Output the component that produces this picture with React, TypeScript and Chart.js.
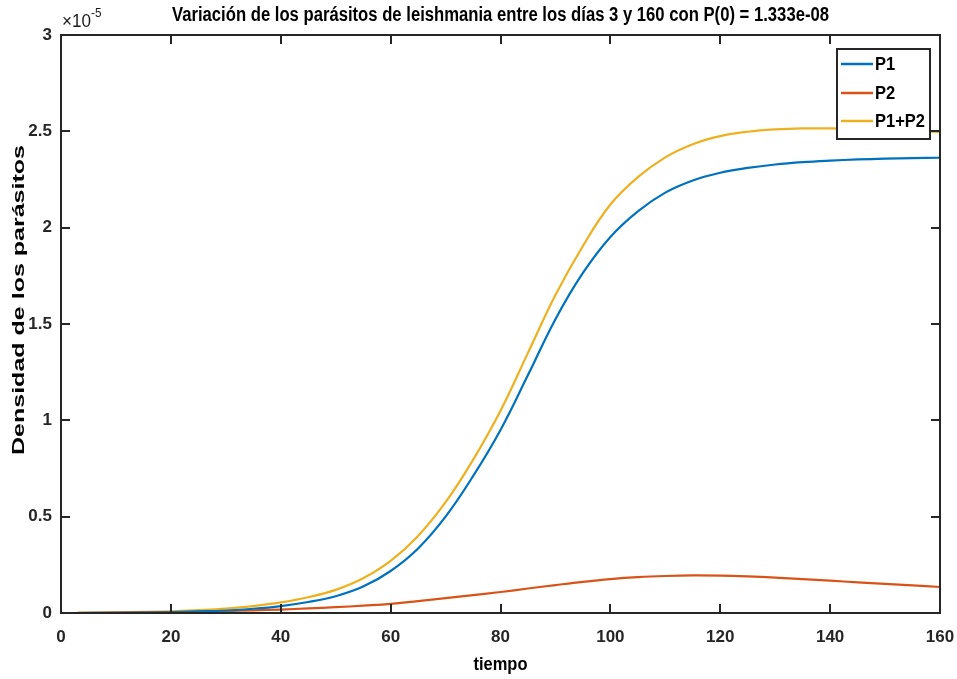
import React, { useEffect, useRef } from "react";
import { Chart, registerables } from "chart.js";

Chart.register(...registerables);

// Values in units of 1e-5 (axis shows ×10^-5)
const TIEMPO = [3, 10, 20, 25, 30, 35, 40, 45, 50, 55, 60, 65, 70, 75, 80, 85, 90, 95, 100, 105, 110, 115, 120, 125, 130, 135, 140, 145, 150, 155, 160];
const P1 = [0.0, 0.001, 0.004, 0.008, 0.013, 0.022, 0.036, 0.057, 0.087, 0.137, 0.218, 0.335, 0.5, 0.71, 0.95, 1.235, 1.525, 1.765, 1.952, 2.085, 2.182, 2.245, 2.285, 2.31, 2.328, 2.34, 2.348, 2.354, 2.358, 2.361, 2.363];
const P2 = [0.001, 0.002, 0.005, 0.007, 0.01, 0.014, 0.018, 0.024, 0.03, 0.038, 0.047, 0.062, 0.077, 0.093, 0.109, 0.127, 0.145, 0.162, 0.176, 0.186, 0.192, 0.195, 0.194, 0.19, 0.184, 0.176, 0.168, 0.159, 0.151, 0.143, 0.135];
const P1P2 = [0.001, 0.003, 0.009, 0.015, 0.023, 0.036, 0.055, 0.082, 0.12, 0.18, 0.27, 0.4, 0.575, 0.795, 1.05, 1.35, 1.65, 1.905, 2.12, 2.262, 2.365, 2.433, 2.475, 2.498, 2.51, 2.515, 2.515, 2.512, 2.507, 2.502, 2.497];

const SERIES_NAMES = ["P1", "P2", "P1+P2"];
const SERIES_COLORS = ["#0072BD", "#D95319", "#EDB120"];
const TITLE = "Variación de los parásitos de leishmania entre los días 3 y 160 con P(0) = 1.333e-08";
const X_LABEL = "tiempo";
const Y_LABEL = "Densidad de los parásitos";
const X_TICKS = [0, 20, 40, 60, 80, 100, 120, 140, 160];
const Y_TICKS = [0, 0.5, 1, 1.5, 2, 2.5, 3];

const FONT = '"Liberation Sans", Arial, sans-serif';
const AXIS = "#262626";

function fitText(ctx: CanvasRenderingContext2D, text: string, cx: number, cy: number, w: number, font: string, rotate = false) {
  ctx.save();
  ctx.font = font;
  const m = ctx.measureText(text).width;
  ctx.translate(cx, cy);
  if (rotate) ctx.rotate(-Math.PI / 2);
  ctx.scale(w / m, 1);
  ctx.textAlign = "center";
  ctx.textBaseline = "middle";
  ctx.fillStyle = "#000";
  ctx.fillText(text, 0, 0);
  ctx.restore();
}

const decorPlugin = {
  id: "decor",
  afterDraw(chart: any) {
    const ctx: CanvasRenderingContext2D = chart.ctx;
    const { left, right, top, bottom } = chart.chartArea;
    const xs = chart.scales.x;
    const ys = chart.scales.y;
    ctx.save();
    // frame
    ctx.strokeStyle = AXIS;
    ctx.lineWidth = 2;
    ctx.strokeRect(left, top, right - left, bottom - top);
    // inward ticks
    const TL = 9;
    ctx.beginPath();
    X_TICKS.forEach((v) => {
      const px = Math.round(xs.getPixelForValue(v));
      ctx.moveTo(px, bottom);
      ctx.lineTo(px, bottom - TL);
      ctx.moveTo(px, top);
      ctx.lineTo(px, top + TL);
    });
    Y_TICKS.forEach((v) => {
      const py = Math.round(ys.getPixelForValue(v));
      ctx.moveTo(left, py);
      ctx.lineTo(left + TL, py);
      ctx.moveTo(right, py);
      ctx.lineTo(right - TL, py);
    });
    ctx.stroke();

    // exponent label
    ctx.save();
    ctx.fillStyle = "#1a1a1a";
    ctx.textBaseline = "alphabetic";
    ctx.textAlign = "left";
    ctx.translate(left + 1, 27);
    ctx.scale(0.9, 1);
    ctx.font = `19px ${FONT}`;
    ctx.fillText("×10", 0, 0);
    const w10 = ctx.measureText("×10").width;
    ctx.font = `13px ${FONT}`;
    ctx.fillText("-5", w10, -10);
    ctx.restore();

    // title and axis labels
    fitText(ctx, TITLE, (left + right) / 2, 15, 657, `bold 20px ${FONT}`);
    fitText(ctx, X_LABEL, (left + right) / 2, 665, 54, `bold 18px ${FONT}`);
    fitText(ctx, Y_LABEL, 19, 300, 310, `bold 17px ${FONT}`, true);

    // legend
    const bx = 837, by = 49, bw = 93, bh = 90;
    ctx.fillStyle = "#fff";
    ctx.fillRect(bx, by, bw, bh);
    ctx.strokeStyle = AXIS;
    ctx.lineWidth = 2;
    ctx.strokeRect(bx, by, bw, bh);
    const rows = [64, 93, 121];
    ctx.font = `bold 19px ${FONT}`;
    const sx = 50 / ctx.measureText("P1+P2").width;
    chart.data.datasets.forEach((ds: any, i: number) => {
      ctx.strokeStyle = ds.borderColor;
      ctx.lineWidth = 2.5;
      ctx.beginPath();
      ctx.moveTo(841, rows[i]);
      ctx.lineTo(873, rows[i]);
      ctx.stroke();
      ctx.save();
      ctx.translate(875, rows[i] + 1);
      ctx.scale(sx, 1);
      ctx.fillStyle = "#000";
      ctx.font = `bold 19px ${FONT}`;
      ctx.textAlign = "left";
      ctx.textBaseline = "middle";
      ctx.fillText(ds.label, 0, 0);
      ctx.restore();
    });
    ctx.restore();
  },
};

export default function App() {
  const ref = useRef<HTMLCanvasElement | null>(null);
  useEffect(() => {
    document.body.style.margin = "0";
    if (!ref.current) return;
    const series = [P1, P2, P1P2];
    const chart = new Chart(ref.current, {
      type: "line",
      data: {
        datasets: series.map((s, i) => ({
          label: SERIES_NAMES[i],
          data: TIEMPO.map((t, j) => ({ x: t, y: s[j] })),
          borderColor: SERIES_COLORS[i],
          backgroundColor: SERIES_COLORS[i],
          borderWidth: 2.2,
          pointRadius: 0,
          tension: 0.4,
          fill: false,
        })),
      },
      options: {
        animation: false,
        responsive: false,
        maintainAspectRatio: false,
        layout: { padding: { top: 35, right: 17, left: 0, bottom: 0 } },
        plugins: { legend: { display: false }, title: { display: false }, tooltip: { enabled: false } },
        scales: {
          x: {
            type: "linear",
            min: 0,
            max: 160,
            afterFit: (s: any) => { s.height = 66; s.paddingLeft = 0; s.paddingRight = 0; },
            afterBuildTicks: (s: any) => { s.ticks = X_TICKS.map((v) => ({ value: v })); },
            grid: { display: false, drawTicks: false },
            border: { display: false },
            ticks: { color: "#262626", padding: 14, font: { family: FONT, size: 17, weight: "bold" }, callback: (v: any) => String(v), maxRotation: 0 },
          },
          y: {
            type: "linear",
            min: 0,
            max: 3,
            afterFit: (s: any) => { s.width = 61; s.paddingTop = 0; s.paddingBottom = 0; },
            afterBuildTicks: (s: any) => { s.ticks = Y_TICKS.map((v) => ({ value: v })); },
            grid: { display: false, drawTicks: false },
            border: { display: false },
            ticks: { color: "#262626", padding: 9, font: { family: FONT, size: 17, weight: "bold" }, callback: (v: any) => String(v) },
          },
        },
      },
      plugins: [decorPlugin],
    });
    return () => chart.destroy();
  }, []);
  return (
    <div style={{ position: "relative", width: 957, height: 679 }}>
      <canvas ref={ref} width={957} height={679} style={{ display: "block", width: 957, height: 679 }} />
    </div>
  );
}
